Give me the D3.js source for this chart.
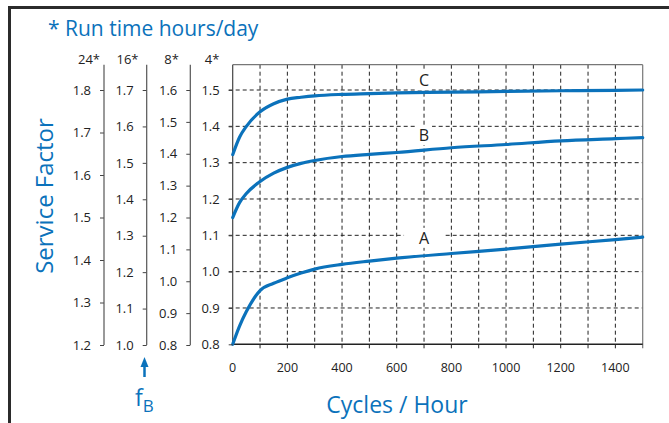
<!DOCTYPE html>
<html><head><meta charset="utf-8">
<script src="https://cdn.jsdelivr.net/npm/d3@7"></script>
<style>
body{margin:0;background:#fff;}
svg{display:block;font-family:"Open Sans",sans-serif;}
</style></head>
<body><svg id="c" width="669" height="423"></svg>
<script>
// Data (service factor on the 4 h/day scale)
const cycles = [0, 25, 50, 100, 150, 200, 250, 300, 400, 500, 600, 800, 1000, 1200, 1400, 1500];
const curveA = [0.80, 0.85, 0.89, 0.948, 0.968, 0.983, 0.996, 1.007, 1.020, 1.029, 1.037, 1.050, 1.062, 1.076, 1.088, 1.095];
const curveB = [1.149, 1.19, 1.215, 1.248, 1.271, 1.287, 1.298, 1.306, 1.317, 1.323, 1.328, 1.341, 1.350, 1.360, 1.366, 1.369];
const curveC = [1.322, 1.37, 1.40, 1.440, 1.462, 1.475, 1.480, 1.484, 1.488, 1.490, 1.492, 1.494, 1.496, 1.498, 1.499, 1.500];
const curveLabels = ["A", "B", "C"];
const xTicks = [0, 200, 400, 600, 800, 1000, 1200, 1400];
const xGrid = [100, 200, 300, 400, 500, 600, 700, 800, 900, 1000, 1100, 1200, 1300, 1400];
const runTimeHeaders = ["24*", "16*", "8*", "4*"];
const ticks24 = [1.2, 1.3, 1.4, 1.5, 1.6, 1.7, 1.8];
const ticks16 = [1.0, 1.1, 1.2, 1.3, 1.4, 1.5, 1.6, 1.7];
const ticks8 = [0.8, 0.9, 1.0, 1.1, 1.2, 1.3, 1.4, 1.5, 1.6];
const ticks4 = [0.8, 0.9, 1.0, 1.1, 1.2, 1.3, 1.4, 1.5];

const blue = "#0b72bb";
const svg = d3.select("#c");

// outer frame
svg.append("path").attr("d","M9.5,423 V7.5 H669").attr("fill","none").attr("stroke","#2b2b2b").attr("stroke-width",3);

const L = 232.7, R = 642.7, T = 64.7, B = 344.3;
const x = d3.scaleLinear().domain([0,1500]).range([L,R]);
const y = d3.scaleLinear().domain([0.8,1.5]).range([B,90]);

// grid
const g = svg.append("g");
g.selectAll(".vg").data(xGrid).join("line")
  .attr("x1",d=>x(d)).attr("x2",d=>x(d)).attr("y1",T).attr("y2",B+4)
  .attr("stroke","#222").attr("stroke-width",1).attr("stroke-dasharray","4,3");
g.selectAll(".hg").data(ticks4.slice(1)).join("line")
  .attr("x1",L-4).attr("x2",R).attr("y1",d=>y(d)).attr("y2",d=>y(d))
  .attr("stroke","#222").attr("stroke-width",1).attr("stroke-dasharray","4,3");

// plot borders
svg.append("line").attr("x1",L).attr("x2",R).attr("y1",T).attr("y2",T).attr("stroke","#777").attr("stroke-width",1.2);
svg.append("line").attr("x1",R).attr("x2",R).attr("y1",T).attr("y2",B+4).attr("stroke","#777").attr("stroke-width",1.2);
svg.append("line").attr("x1",L).attr("x2",L).attr("y1",T).attr("y2",B).attr("stroke","#444").attr("stroke-width",1.2);
svg.append("line").attr("x1",L).attr("x2",R).attr("y1",B).attr("y2",B).attr("stroke","#222").attr("stroke-width",1.4);

// x tick labels
svg.append("g").selectAll("text").data(xTicks).join("text")
  .attr("x",d=>x(d)).attr("y",372).attr("text-anchor","middle")
  .attr("font-size",12.5).attr("fill","#222").text(d=>d);

// label backgrounds + labels
const series = [curveA, curveB, curveC];
const labelY = [1.093, 1.376, 1.527];
const lbl = svg.append("g");
curveLabels.forEach((t,i)=>{
  const w = i===0 ? 40 : 16;
  lbl.append("rect").attr("x",x(700)-w/2).attr("y",y(labelY[i])-10).attr("width",w).attr("height",20).attr("fill","#fff");
  lbl.append("text").attr("x",x(700)).attr("y",y(labelY[i])+6).attr("text-anchor","middle")
    .attr("font-size",16).attr("fill","#222").text(t);
});

// curves
const line = d3.line().x((d,i)=>x(cycles[i])).y(d=>y(d)).curve(d3.curveMonotoneX);
svg.append("g").selectAll("path").data(series).join("path")
  .attr("d",line).attr("fill","none").attr("stroke",blue).attr("stroke-width",3.2).attr("stroke-linecap","round");

// 4* axis ticks/labels at plot left
const ax4 = d3.axisLeft(y).tickValues(ticks4).tickSize(4).tickPadding(9).tickFormat(d3.format(".1f"));
const g4 = svg.append("g").attr("transform",`translate(${L},0)`).call(ax4);
g4.select(".domain").remove();

// extra axes
const extra = [
  {xp:104, dom:[1.2,1.8], ticks:ticks24},
  {xp:146.7, dom:[1.0,1.7], ticks:ticks16},
  {xp:190.3, dom:[0.8,1.6], ticks:ticks8}
];
extra.forEach(a=>{
  const sc = d3.scaleLinear().domain(a.dom).range([345,90]);
  const ag = svg.append("g").attr("transform",`translate(${a.xp},0)`)
    .call(d3.axisLeft(sc).tickValues(a.ticks).tickSize(4).tickPadding(9).tickFormat(d3.format(".1f")));
  ag.select(".domain").remove();
  ag.append("line").attr("x1",0).attr("x2",0).attr("y1",T).attr("y2",345).attr("stroke","#555").attr("stroke-width",1.2);
});
svg.selectAll(".tick line").attr("stroke","#444");
svg.selectAll(".tick text").attr("font-size",13).attr("fill","#222").attr("font-family","'Open Sans',sans-serif");

// run time headers
const hx = [89, 127.5, 171.5, 212];
svg.append("g").selectAll("text").data(runTimeHeaders).join("text")
  .attr("x",(d,i)=>hx[i]).attr("y",64).attr("text-anchor","middle")
  .attr("font-size",13).attr("fill","#222").text(d=>d);

// titles
svg.append("text").attr("x",48).attr("y",36).attr("font-size",21).attr("fill",blue).text("* Run time hours/day");
svg.append("text").attr("transform","translate(53,196) rotate(-90)").attr("text-anchor","middle")
  .attr("font-size",24).attr("fill",blue).text("Service Factor");
svg.append("text").attr("x",397).attr("y",413).attr("text-anchor","middle").attr("font-size",23).attr("fill",blue).text("Cycles / Hour");

// f_B arrow
svg.append("line").attr("x1",144.5).attr("x2",144.5).attr("y1",377).attr("y2",364).attr("stroke",blue).attr("stroke-width",2.5);
svg.append("path").attr("d","M144.5,357 L140.5,367 L148.5,367 Z").attr("fill",blue);
const fb = svg.append("text").attr("x",135).attr("y",406).attr("font-size",23).attr("fill",blue);
fb.append("tspan").text("f");
fb.append("tspan").attr("font-size",17).attr("dy",6).text("B");
</script></body></html>
